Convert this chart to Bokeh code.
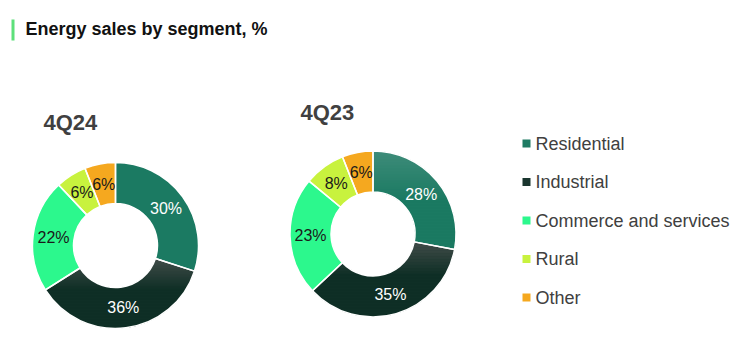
import math
from bokeh.plotting import figure
from bokeh.models import ColumnDataSource, Label
from bokeh.core.properties import value
from bokeh.embed import file_html
from bokeh.resources import INLINE

# ---- data ----
segments = ["Residential", "Industrial", "Commerce and services", "Rural", "Other"]
colors = ["#1b7a62", "#0f2f26", "#2cf88d", "#c8f23e", "#f5a81f"]
label_colors = ["#ffffff", "#ffffff", "#1a1a1a", "#1a1a1a", "#1a1a1a"]
q4_24 = [30, 36, 22, 6, 6]
q4_23 = [28, 35, 23, 8, 6]
periods = ["4Q24", "4Q23"]
title = "Energy sales by segment, %"

FONT = "Liberation Sans"
W, H = 738, 343
DX, DY = 8, -8

p = figure(width=W, height=H, x_range=(0, W), y_range=(0, H),
           x_axis_type=None, y_axis_type=None, toolbar_location=None,
           output_backend="svg", min_border=0)
p.grid.visible = False
p.outline_line_color = None
p.background_fill_color = "white"


def hex2rgb(h):
    h = h.lstrip("#")
    return [int(h[i:i + 2], 16) for i in (0, 2, 4)]


def mix(c1, c2, t):
    a, b = hex2rgb(c1), hex2rgb(c2)
    return "#%02x%02x%02x" % tuple(int(round(a[i] + (b[i] - a[i]) * t)) for i in range(3))


def clip(poly, y, keep_above):
    out = []
    n = len(poly)
    for i in range(n):
        P, Q = poly[i], poly[(i + 1) % n]
        pin = (P[1] >= y) if keep_above else (P[1] <= y)
        qin = (Q[1] >= y) if keep_above else (Q[1] <= y)
        if pin:
            out.append(P)
        if pin != qin:
            t = (y - P[1]) / (Q[1] - P[1])
            out.append((P[0] + t * (Q[0] - P[0]), y))
    return out


def gradient_slice(cx, cy, r_in, r_out, a0, a1, top_col, bot_col, frac):
    n = 90
    pts = []
    for k in range(n + 1):
        a = a0 + (a1 - a0) * k / n
        pts.append((cx + r_out * math.cos(a), cy + r_out * math.sin(a)))
    for k in range(n + 1):
        a = a1 + (a0 - a1) * k / n
        pts.append((cx + r_in * math.cos(a), cy + r_in * math.sin(a)))
    ys = [q[1] for q in pts]
    ytop, ybot = max(ys), min(ys)
    span = (ytop - ybot) * frac
    xs_l, ys_l, cols = [], [], []
    step = 1.5
    y = ytop
    while y > ybot:
        y2 = max(y - step, ybot)
        band = clip(clip(pts, y2, True), min(y + 0.7, ytop), False)
        if len(band) >= 3:
            t = min(1.0, (ytop - (y + y2) / 2) / span)
            xs_l.append([q[0] for q in band])
            ys_l.append([q[1] for q in band])
            cols.append(mix(top_col, bot_col, t))
        y = y2
    p.patches(xs="xs", ys="ys", fill_color="c", line_color=None,
              source=ColumnDataSource(dict(xs=xs_l, ys=ys_l, c=cols)))


def ring(vals, cx, cy, r_in, r_out, grads):
    total = float(sum(vals))
    starts, ends, lx, ly, txt = [], [], [], [], []
    c = 0.0
    rm = (r_in + r_out) / 2.0
    for v in vals:
        a0 = math.pi / 2 - 2 * math.pi * c / total
        a1 = math.pi / 2 - 2 * math.pi * (c + v) / total
        mid = (a0 + a1) / 2
        starts.append(a0)
        ends.append(a1)
        lx.append(cx + rm * math.cos(mid))
        ly.append(cy + rm * math.sin(mid))
        txt.append(f"{v}%")
        c += v
    src = ColumnDataSource(dict(s=starts, e=ends, color=colors, lx=lx, ly=ly,
                                txt=txt, tc=label_colors))
    p.annular_wedge(x=cx, y=cy, inner_radius=r_in, outer_radius=r_out,
                    start_angle="s", end_angle="e", direction="clock",
                    fill_color="color", line_color=None, source=src)
    for i, (top_col, frac) in grads.items():
        gradient_slice(cx, cy, r_in, r_out, starts[i], ends[i], top_col, colors[i], frac)
    p.annular_wedge(x=cx, y=cy, inner_radius=r_in, outer_radius=r_out,
                    start_angle="s", end_angle="e", direction="clock",
                    fill_alpha=0, line_color="white", line_width=1.5, source=src)
    p.text(x="lx", y="ly", text="txt", text_color="tc", source=src,
           text_font=value(FONT), text_font_size="16px",
           text_align="center", text_baseline="middle")


ring(q4_24, 107 + DX, 106 + DY, 42, 83, {1: ("#434d4a", 0.45)})
ring(q4_23, 364.5 + DX, 117.5 + DY, 42, 83,
     {0: ("#3f8c7a", 0.5), 1: ("#434d4a", 0.45)})

# period titles
p.add_layout(Label(x=35 + DX, y=229 + DY, text=periods[0], text_font=FONT,
                   text_font_size="22px", text_font_style="bold",
                   text_color="#404040", text_baseline="middle"))
p.add_layout(Label(x=292 + DX, y=239 + DY, text=periods[1], text_font=FONT,
                   text_font_size="22px", text_font_style="bold",
                   text_color="#404040", text_baseline="middle"))

# title with accent bar
p.quad(left=3 + DX, right=6 + DX, bottom=311 + DY, top=332 + DY,
       fill_color="#5de07a", line_color=None)
p.add_layout(Label(x=17 + DX, y=323 + DY, text=title, text_font=FONT,
                   text_font_size="18px", text_font_style="bold",
                   text_color="#111111", text_baseline="middle"))

# legend
legend_colors = ["#1e7b63", "#1a362f", "#2cf88d", "#c8f23e", "#f5a81f"]
ly0 = 208 + DY
step = 38.5
leg = ColumnDataSource(dict(
    x=[518 + DX] * len(segments),
    y=[ly0 - i * step for i in range(len(segments))],
    tx=[527 + DX] * len(segments),
    name=segments, color=legend_colors))
p.rect(x="x", y="y", width=8, height=8, fill_color="color", line_color=None, source=leg)
p.text(x="tx", y="y", text="name", source=leg, text_font=value(FONT),
       text_font_size="18px", text_color="#404040", text_baseline="middle")

open("out.html", "w").write(file_html(p, INLINE))
